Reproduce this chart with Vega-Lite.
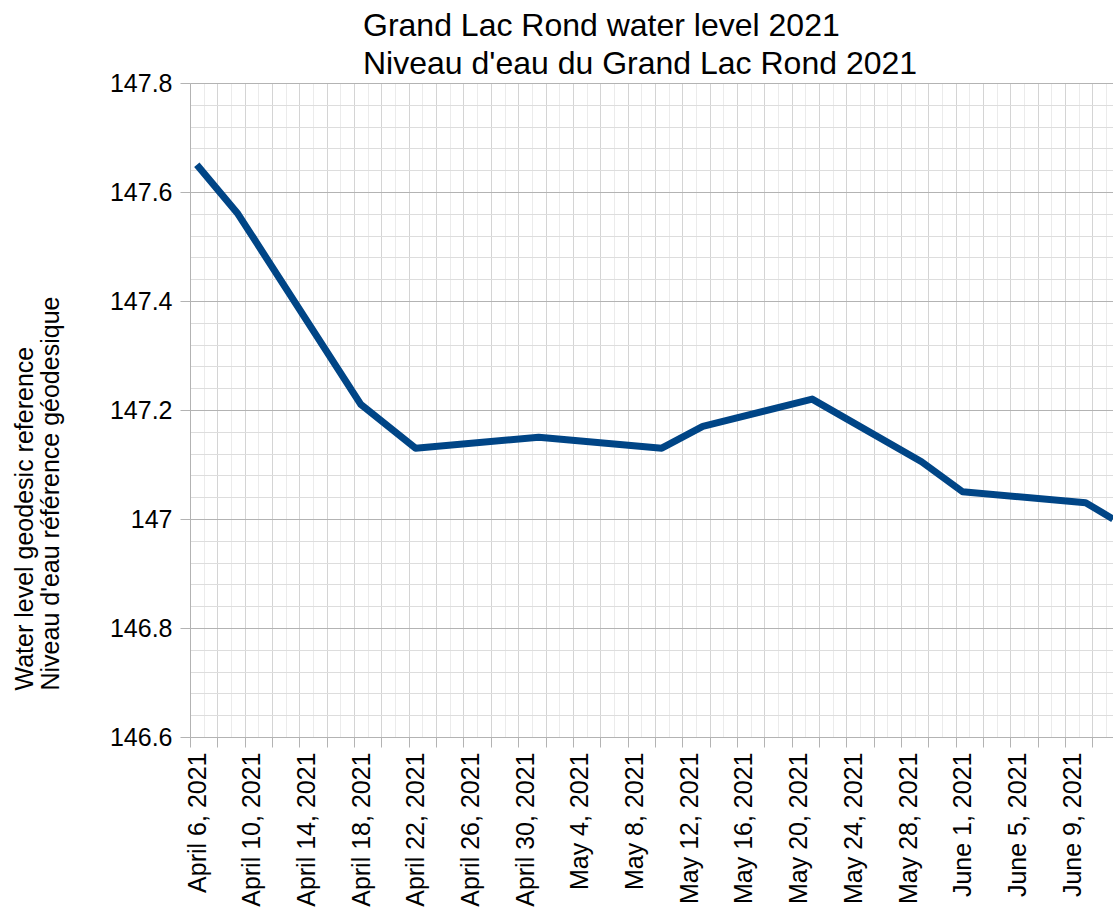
{
  "$schema": "https://vega.github.io/schema/vega-lite/v6.json",
  "width": 923,
  "height": 654,
  "autosize": {"type": "none"},
  "padding": {"left": 190, "top": 83, "right": 0, "bottom": 186},
  "background": "white",
  "title": {
    "text": ["Grand Lac Rond water level 2021", "Niveau d'eau du Grand Lac Rond 2021"],
    "font": "Liberation Sans",
    "fontSize": 32,
    "fontWeight": "normal",
    "color": "black",
    "anchor": "start",
    "frame": "group",
    "align": "left",
    "dx": 173,
    "lineHeight": 38,
    "offset": -10
  },
  "config": {"view": {"stroke": null}},
  "data": {
    "values": [
      {"date": "2021-04-06T12:00:00", "level": 147.65},
      {"date": "2021-04-09T12:00:00", "level": 147.56},
      {"date": "2021-04-18T12:00:00", "level": 147.21},
      {"date": "2021-04-22T12:00:00", "level": 147.13},
      {"date": "2021-05-01T12:00:00", "level": 147.15},
      {"date": "2021-05-10T12:00:00", "level": 147.13},
      {"date": "2021-05-13T12:00:00", "level": 147.17},
      {"date": "2021-05-21T12:00:00", "level": 147.22},
      {"date": "2021-05-29T12:00:00", "level": 147.105},
      {"date": "2021-06-01T12:00:00", "level": 147.05},
      {"date": "2021-06-10T12:00:00", "level": 147.03},
      {"date": "2021-06-12T12:00:00", "level": 147.0}
    ]
  },
  "mark": {"type": "line", "color": "#004586", "strokeWidth": 7, "strokeJoin": "round", "strokeCap": "butt", "clip": false},
  "encoding": {
    "x": {
      "field": "date",
      "type": "temporal",
      "scale": {
        "domain": [
          {"year": 2021, "month": 4, "date": 6, "hours": 0},
          {"year": 2021, "month": 6, "date": 12, "hours": 12}
        ],
        "nice": false
      },
      "axis": {
        "title": null,
        "tickCount": {"interval": "day", "step": 1},
        "labelAngle": 270,
        "labelOffset": 7,
        "labelPadding": 5,
        "labelFont": "Liberation Sans",
        "labelFontSize": 25,
        "labelColor": "black",
        "labelOverlap": false,
        "labelBound": false,
        "labelFlush": false,
        "labelExpr": "round((time(datum.value) - time(datetime(2021,3,6)))/86400000) % 4 == 0 ? timeFormat(datum.value, '%B %-d, %Y') : ''",
        "tickSize": 10,
        "tickColor": "#b3b3b3",
        "tickOpacity": {"condition": {"test": "round((time(datum.value) - time(datetime(2021,3,6)))/86400000) % 2 == 0", "value": 1}, "value": 0},
        "grid": true,
        "gridColor": {"condition": {"test": "round((time(datum.value) - time(datetime(2021,3,6)))/86400000) % 2 == 0", "value": "#d4d4d4"}, "value": "#ebebeb"},
        "gridOpacity": 1,
        "domainColor": "#b3b3b3"
      }
    },
    "y": {
      "field": "level",
      "type": "quantitative",
      "scale": {"domain": [146.6, 147.8], "nice": false, "zero": false},
      "axis": {
        "values": [146.6, 146.64, 146.68, 146.72, 146.76, 146.8, 146.84, 146.88, 146.92, 146.96, 147.0, 147.04, 147.08, 147.12, 147.16, 147.2, 147.24, 147.28, 147.32, 147.36, 147.4, 147.44, 147.48, 147.52, 147.56, 147.6, 147.64, 147.68, 147.72, 147.76, 147.8],
        "labelFont": "Liberation Sans",
        "labelFontSize": 25,
        "labelColor": "black",
        "labelPadding": 8,
        "labelOverlap": false,
        "labelBound": false,
        "labelFlush": false,
        "labelExpr": "abs(datum.value*5 - round(datum.value*5)) < 0.01 ? format(datum.value, '~g') : ''",
        "tickSize": 10,
        "tickColor": "#b3b3b3",
        "tickOpacity": {"condition": {"test": "abs(datum.value*5 - round(datum.value*5)) < 0.01", "value": 1}, "value": 0},
        "grid": true,
        "gridColor": {"condition": {"test": "abs(datum.value*5 - round(datum.value*5)) < 0.01", "value": "#b3b3b3"}, "value": "#dddddd"},
        "gridOpacity": 1,
        "domainColor": "#b3b3b3",
        "title": ["Water level geodesic reference", "Niveau d'eau référence géodesique"],
        "titleFont": "Liberation Sans",
        "titleFontSize": 25,
        "titleFontWeight": "normal",
        "titleColor": "black",
        "titleAngle": 270,
        "titleAlign": "left",
        "titleBaseline": "top",
        "titleLineHeight": 26,
        "titleX": -178,
        "titleY": 607
      }
    }
  }
}
